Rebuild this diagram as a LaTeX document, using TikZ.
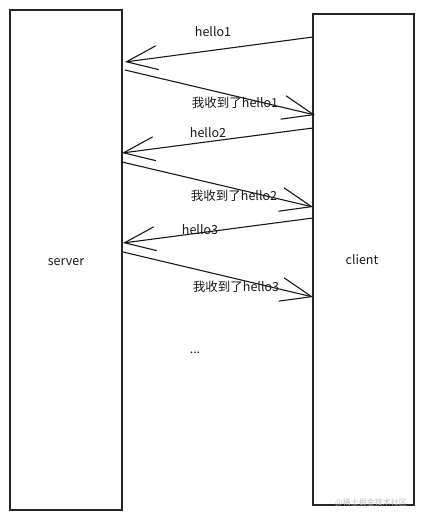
\documentclass[tikz,border=0pt]{standalone}
\usepackage{fontspec}
\setmainfont{Noto Sans CJK SC}
\usetikzlibrary{arrows.meta}
\begin{document}
\begin{tikzpicture}[x=1pt,y=-1pt,
  lane/.style={draw=black!85,line width=1.3pt,fill=white,inner sep=0pt},
  msg/.style={draw=black!90,line width=1.1pt,-{Straight Barb[length=31pt,width=24pt,line width=1.1pt]}},
  lbl/.style={font=\fontsize{12.5}{14}\selectfont,text=black!90,inner sep=1pt},
  wm/.style={font=\fontsize{8}{9}\selectfont,text=black!25,inner sep=0pt}]
\useasboundingbox (0,0) rectangle (424,521);
\fill[white] (0,0) rectangle (424,521);
\node[lane,minimum width=112pt,minimum height=500pt] (srv) at (66,260) {};
\node[lane,minimum width=101pt,minimum height=491pt] (cli) at (363.5,259.5) {};
\node[lbl] (srvt) at (66,262) {server};
\node[lbl] (clit) at (362,260) {client};
% endpoints on the lanes
\coordinate (c1) at (313,37);  \coordinate (s1) at (125,62);
\coordinate (s2) at (125,70);  \coordinate (c2) at (315,115);
\coordinate (c3) at (313,128); \coordinate (s3) at (122,153);
\coordinate (s4) at (122,162); \coordinate (c4) at (313,207);
\coordinate (c5) at (313,218); \coordinate (s5) at (123,243);
\coordinate (s6) at (123,252); \coordinate (c6) at (313,297);
\draw[msg] (c1) -- (s1);
\draw[msg] (s2) -- (c2);
\draw[msg] (c3) -- (s3);
\draw[msg] (s4) -- (c4);
\draw[msg] (c5) -- (s5);
\draw[msg] (s6) -- (c6);
\node[lbl] (l1) at (213,32) {hello1};
\node[lbl] (l2) at (235,103) {我收到了hello1};
\node[lbl] (l3) at (208,133) {hello2};
\node[lbl] (l4) at (234,196) {我收到了hello2};
\node[lbl] (l5) at (200,230) {hello3};
\node[lbl] (l6) at (236,287) {我收到了hello3};
\node[lbl] (dots) at (195,353) {...};
\node[wm] (wmk) at (371,503) {@稀土掘金技术社区};
\end{tikzpicture}
\end{document}
